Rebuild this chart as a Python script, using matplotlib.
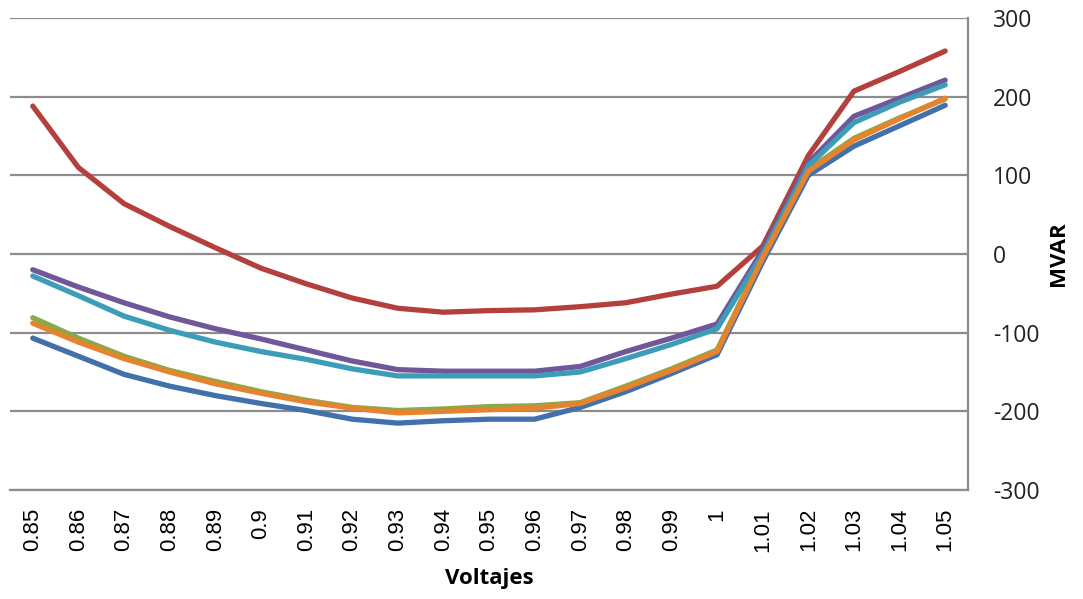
import matplotlib
matplotlib.use('Agg')
import matplotlib.pyplot as plt

plt.rcParams['axes.unicode_minus'] = False

# categorias (voltajes) y series MVAR
voltajes = ['0.85', '0.86', '0.87', '0.88', '0.89', '0.9', '0.91', '0.92', '0.93', '0.94', '0.95',
            '0.96', '0.97', '0.98', '0.99', '1', '1.01', '1.02', '1.03', '1.04', '1.05']

serie_azul = [-107, -130, -153, -168, -180, -190, -199, -210, -215, -212, -210,
              -210, -195, -175, -152, -128, -10, 100, 137, 163, 189]
serie_roja = [188, 110, 64, 35, 8, -18, -38, -56, -69, -74, -72,
              -71, -67, -62, -51, -41, 10, 125, 207, 232, 258]
serie_verde = [-81, -107, -130, -148, -162, -175, -186, -195, -199, -197, -194,
               -193, -189, -168, -146, -122, -3, 107, 147, 173, 197]
serie_morada = [-20, -42, -62, -80, -95, -108, -122, -136, -147, -149, -149,
                -149, -143, -124, -107, -89, 5, 116, 175, 198, 221]
serie_cian = [-28, -53, -79, -97, -112, -124, -134, -146, -155, -155, -155,
              -155, -150, -133, -115, -95, 0, 112, 167, 193, 215]
serie_naranja = [-88, -112, -133, -150, -165, -177, -188, -196, -202, -200, -198,
                 -196, -190, -170, -148, -124, -5, 105, 145, 172, 198]

series = [serie_azul, serie_roja, serie_verde, serie_morada, serie_cian, serie_naranja]
colores = ['#4170AB', '#B3403D', '#88AA48', '#70579A', '#3D9DB8', '#E5832E']

fig = plt.figure(figsize = (10.83, 5.99), dpi = 100)
ax = fig.add_axes([0.0092, 0.182, 0.8846, 0.788])

x = list(range(len(voltajes)))
for valores, color in zip(series, colores):
    ax.plot(x, valores, color = color, linewidth = 3.8, solid_capstyle = 'round')

ax.set_xlim(-0.5, len(voltajes) - 0.5)
ax.set_ylim(-300, 300)
ax.set_yticks(range(-300, 301, 100))
ax.grid(axis = 'y', color = '#8C8C8C', linewidth = 1.6)
ax.set_axisbelow(True)

for lado in ['top', 'left']:
    ax.spines[lado].set_visible(False)
for lado in ['right', 'bottom']:
    ax.spines[lado].set_color('#8C8C8C')
    ax.spines[lado].set_linewidth(1.6)

ax.yaxis.tick_right()
ax.yaxis.set_label_position('right')
ax.tick_params(axis = 'y', length = 0, pad = 18, labelsize = 16.5, labelcolor = '#222222')
for t in ax.get_yticklabels():
    t.set_fontfamily('Open Sans')

ax.set_xticks(x)
ax.set_xticklabels(voltajes, rotation = 90, fontfamily = 'Liberation Sans', fontsize = 16)
ax.tick_params(axis = 'x', length = 0, pad = 13)

ax.set_xlabel('Voltajes', fontfamily = 'Open Sans', fontweight = 'bold', fontsize = 16, labelpad = 12)
ax.set_ylabel('MVAR', fontfamily = 'Open Sans', fontweight = 'bold', fontsize = 16, labelpad = 6)

fig.savefig('out.png', dpi = 100)
